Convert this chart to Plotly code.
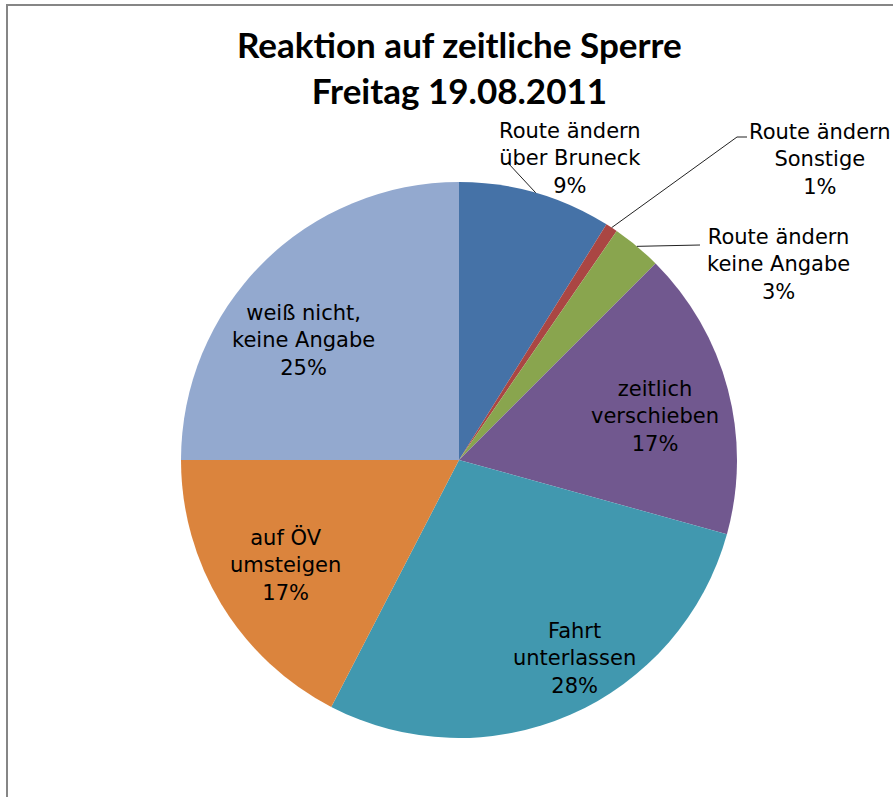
import math
import plotly.graph_objects as go

# ---- data ----
categories = [
    "Route ändern<br>über Bruneck",
    "Route ändern<br>Sonstige",
    "Route ändern<br>keine Angabe",
    "zeitlich<br>verschieben",
    "Fahrt<br>unterlassen",
    "auf ÖV<br>umsteigen",
    "weiß nicht,<br>keine Angabe",
]
shares = [8.9, 0.7, 2.9, 16.8, 28.3, 17.4, 25.0]
colors = ["#4572A7", "#AA4643", "#89A54E", "#71588F", "#4198AF", "#DB843D", "#93A9CF"]
title_lines = ["Reaktion auf zeitliche Sperre", "Freitag 19.08.2011"]

# ---- layout constants (pixels) ----
W, H = 893, 797
CX, CY, R = 459, 460, 278
label_pos = [(570, 158), (820, 159), (778, 265), (655, 416), (574, 658), (285, 565), (303, 340)]
# leader line end points for outside labels (index -> list of points)
leader_ends = {0: [(508, 163)], 1: [(737, 137), (747, 137)], 2: [(700, 245)]}


def px(x):
    return x / W


def py(y):
    return 1 - y / H


fig = go.Figure(
    go.Pie(
        labels=categories,
        values=shares,
        sort=False,
        direction="clockwise",
        rotation=0,
        marker=dict(colors=colors, line=dict(width=0)),
        textinfo="none",
        hoverinfo="label+percent",
        showlegend=False,
        domain=dict(x=[px(CX - R), px(CX + R)], y=[py(CY + R), py(CY - R)]),
    )
)

total = sum(shares)
annotations = []
shapes = []
cum = 0.0
for i, (lab, v) in enumerate(zip(categories, shares)):
    pct = v / total * 100
    mid = (cum + v / 2) / total * 2 * math.pi
    cum += v
    lx, ly = label_pos[i]
    annotations.append(
        dict(
            x=px(lx), y=py(ly), xref="paper", yref="paper",
            text=f"{lab}<br>{round(pct)}%",
            showarrow=False, xanchor="center", yanchor="middle",
            font=dict(family="DejaVu Sans", size=21, color="#000000"),
        )
    )
    if i in leader_ends:
        sx = CX + R * math.sin(mid)
        sy = CY - R * math.cos(mid)
        pts = [(sx, sy)] + leader_ends[i]
        path = "M " + " L ".join(f"{px(a)},{py(b)}" for a, b in pts)
        shapes.append(dict(type="path", xref="paper", yref="paper", path=path,
                           line=dict(color="#222222", width=1)))

# title as annotation
annotations.append(
    dict(
        x=px(459), y=py(67), xref="paper", yref="paper",
        text="<b>" + "<br>".join(title_lines) + "</b>",
        showarrow=False, xanchor="center", yanchor="middle",
        font=dict(family="Lato", size=35, color="#000000"),
    )
)

# chart border
shapes.append(dict(type="rect", xref="paper", yref="paper",
                   x0=px(7), x1=1.05, y0=-0.05, y1=py(5),
                   line=dict(color="#868686", width=2), fillcolor="rgba(0,0,0,0)"))

fig.update_layout(
    width=W, height=H,
    margin=dict(l=0, r=0, t=0, b=0),
    paper_bgcolor="white",
    plot_bgcolor="white",
    annotations=annotations,
    shapes=shapes,
)

fig.write_html(
    "out.html",
    config={"displayModeBar": False},
    post_script="document.body.style.margin='0px';document.body.style.padding='0px';",
)
